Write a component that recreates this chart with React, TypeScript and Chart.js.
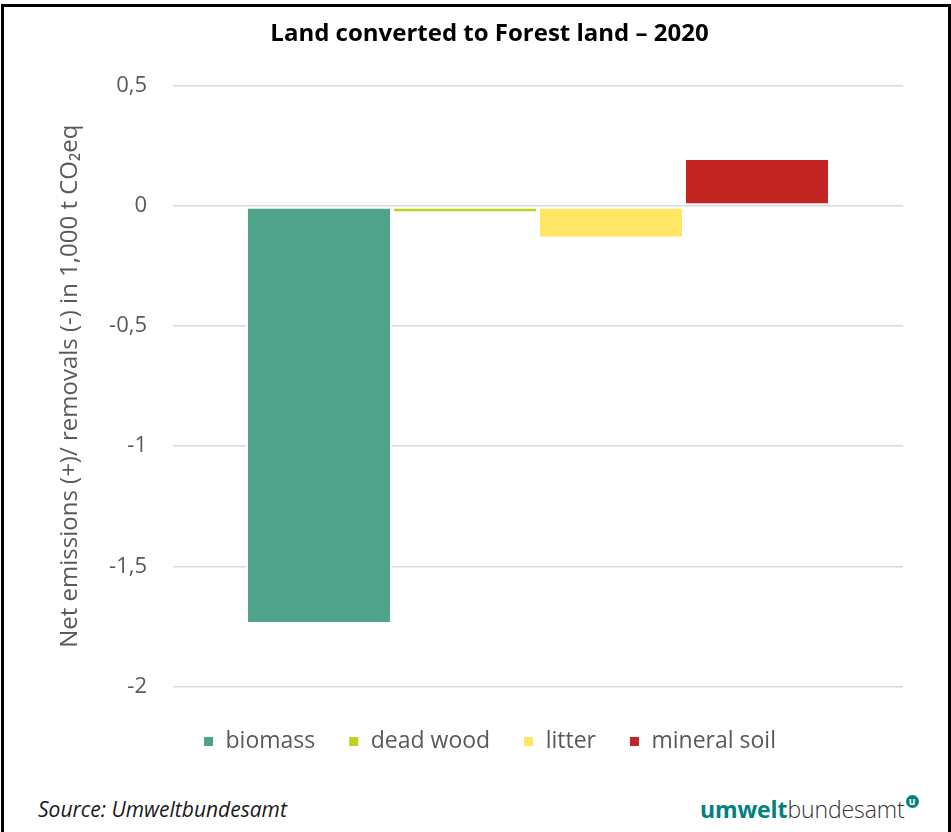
import React, { useEffect, useRef } from "react";
import { Chart, registerables } from "chart.js";

Chart.register(...registerables);

const categories = ["2020"];
const seriesNames = ["biomass", "dead wood", "litter", "mineral soil"];
const biomass = [-1.74];
const deadWood = [-0.03];
const litter = [-0.135];
const mineralSoil = [0.2];
const seriesColors = ["#4FA38A", "#BED21F", "#FFE664", "#C22323"];
const yTicks = [0.5, 0, -0.5, -1, -1.5, -2];

const FONT = "'Open Sans', 'Noto Sans', sans-serif";

export default function App() {
  const ref = useRef<HTMLCanvasElement | null>(null);

  useEffect(() => {
    document.body.style.margin = "0";
    const canvas = ref.current;
    if (!canvas) return;
    const values = [biomass, deadWood, litter, mineralSoil];
    const chart = new Chart(canvas, {
      type: "bar",
      data: {
        labels: categories,
        datasets: seriesNames.map((name, i) => ({
          label: name,
          data: values[i],
          backgroundColor: seriesColors[i],
          borderColor: "#ffffff",
          borderWidth: 2,
          borderSkipped: false,
          barPercentage: 1,
          categoryPercentage: 0.8,
        })),
      },
      options: {
        responsive: false,
        animation: false,
        devicePixelRatio: 1,
        layout: { padding: 0 },
        plugins: {
          tooltip: { enabled: false },
          title: {
            display: true,
            text: "Land converted to Forest land \u2013 2020",
            color: "#000000",
            font: { family: FONT, size: 24, weight: "bold" },
            padding: { top: 20, bottom: 37 },
          },
          legend: {
            position: "bottom",
            labels: {
              boxWidth: 11,
              boxHeight: 11,
              padding: 33,
              color: "#595959",
              font: { family: FONT, size: 23 },
            },
          },
        },
        scales: {
          x: {
            display: true,
            grid: { display: false },
            border: { display: false },
            ticks: { display: false },
            afterFit: (scale: any) => {
              scale.height = 10.5;
            },
          },
          y: {
            min: -2,
            max: 0.5,
            afterFit: (scale: any) => {
              scale.width = 145;
            },
            afterBuildTicks: (scale: any) => {
              scale.ticks = yTicks.map((v) => ({ value: v }));
            },
            grid: {
              color: "#D9D9D9",
              lineWidth: 1.5,
              drawTicks: false,
            },
            border: { display: false },
            ticks: {
              padding: 26,
              color: "#595959",
              font: { family: FONT, size: 22 },
              callback: (v: any) => String(v).replace(".", ","),
            },
            title: {
              display: true,
              text: "Net emissions (+)/ removals (-) in 1,000 t CO\u2082eq",
              color: "#595959",
              font: { family: FONT, size: 24 },
              padding: { top: 28, bottom: 0 },
            },
          },
          y2: {
            type: "linear",
            position: "right",
            display: true,
            min: 0,
            max: 1,
            grid: { display: false },
            border: { display: false },
            ticks: { display: false },
            afterFit: (scale: any) => {
              scale.width = 48;
            },
          },
        },
      },
    });
    return () => chart.destroy();
  }, []);

  return (
    <div style={{ position: "relative", width: 951, height: 832, overflow: "hidden", background: "#fff" }}>
      <div
        style={{
          position: "absolute",
          left: 1,
          top: 4,
          width: 944,
          height: 900,
          border: "3px solid #000",
          boxSizing: "content-box",
        }}
      />
      <canvas
        ref={ref}
        width={923}
        height={763}
        style={{ position: "absolute", left: 28, top: 0, width: 923, height: 763 }}
      />
      <div
        style={{
          position: "absolute",
          left: 38,
          top: 795,
          fontFamily: FONT,
          fontStyle: "italic",
          fontSize: 21,
          color: "#1a1a1a",
          whiteSpace: "nowrap",
        }}
      >
        Source: Umweltbundesamt
      </div>
      <div
        style={{
          position: "absolute",
          left: 700,
          top: 793,
          fontFamily: FONT,
          fontSize: 23,
          color: "#333333",
          whiteSpace: "nowrap",
          letterSpacing: -0.1,
        }}
      >
        <span style={{ color: "#008080", fontWeight: 700 }}>umwelt</span>
        <span style={{ fontWeight: 300 }}>bundesamt</span>
        <span
          style={{
            display: "inline-block",
            width: 13,
            height: 13,
            borderRadius: "50%",
            background: "#008080",
            color: "#fff",
            fontSize: 10,
            fontWeight: 700,
            lineHeight: "13px",
            textAlign: "center",
            verticalAlign: "top",
            marginLeft: 1,
            marginTop: 2,
            letterSpacing: 0,
          }}
        >
          u
        </span>
      </div>
    </div>
  );
}
